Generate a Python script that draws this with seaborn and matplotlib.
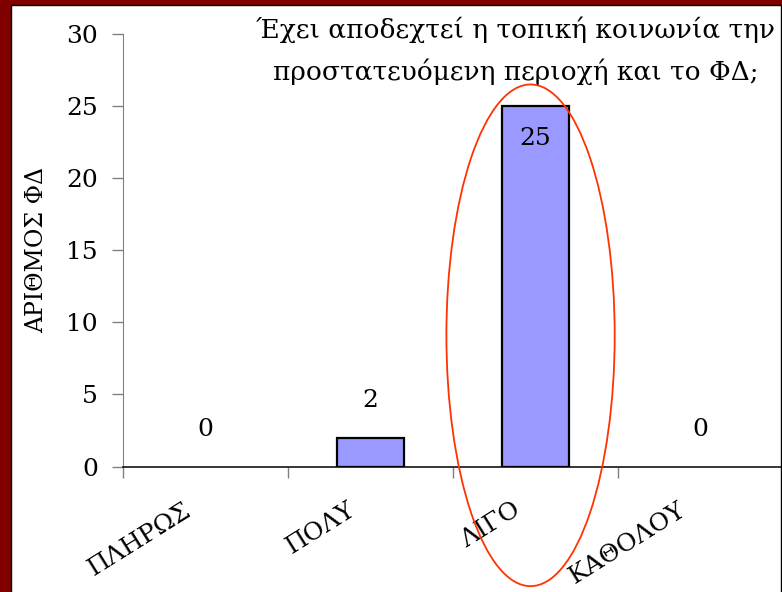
import matplotlib
matplotlib.use("Agg")
import matplotlib.pyplot as plt
from matplotlib.patches import Ellipse, Rectangle
from matplotlib.transforms import ScaledTranslation
import seaborn as sns

# data
categories = ['ΠΛΗΡΩΣ', 'ΠΟΛΥ', 'ΛΙΓΟ', 'ΚΑΘΟΛΟΥ']
counts = [0, 2, 25, 0]
title_lines = ['Έχει αποδεχτεί η τοπική κοινωνία την', 'προστατευόμενη περιοχή και το ΦΔ;']
ylabel = 'ΑΡΙΘΜΟΣ ΦΔ'
highlight = 'ΛΙΓΟ'

sns.set_style('white')
plt.rcParams['font.family'] = ['DejaVu Serif']
plt.rcParams['text.color'] = 'black'
plt.rcParams['axes.labelcolor'] = 'black'
plt.rcParams['xtick.labelcolor'] = 'black'
plt.rcParams['ytick.labelcolor'] = 'black'

fig = plt.figure(figsize=(7.82, 5.92), dpi=100)
ax = fig.add_axes([123 / 782, 1 - 466.5 / 592, 660 / 782, 432.5 / 592])

sns.barplot(x=categories, y=counts, color='#9999FF', edgecolor='black',
            linewidth=1.6, width=0.41, saturation=1, ax=ax)
# zero bars leave no outline
for p in ax.patches:
    if p.get_height() == 0:
        p.set_visible(False)

ax.set_ylim(0, 30)
ax.set_xlim(-0.5, 3.5)
ax.set_yticks(range(0, 31, 5))
ax.tick_params(axis='y', labelsize=18, length=8, width=1, color='#808080',
               direction='out', pad=10, left=True)
# boundary ticks on x, labels at the centres
ax.set_xticks([-0.5, 0.5, 1.5, 2.5, 3.5], labels=[''] * 5)
ax.tick_params(axis='x', which='major', length=8, width=1, color='#808080',
               direction='out', bottom=True)
ax.set_xticks(range(len(categories)), labels=categories, minor=True)
ax.tick_params(axis='x', which='minor', length=0, labelsize=18, pad=23)
shift = ScaledTranslation(-23 / 100, 0, fig.dpi_scale_trans)
for lab in ax.get_xticklabels(minor=True):
    lab.set_rotation(32)
    lab.set_ha('right')
    lab.set_va('top')
    lab.set_rotation_mode('anchor')
    lab.set_transform(lab.get_transform() + shift)

ax.set_ylabel(ylabel, fontsize=17)
ax.yaxis.set_label_coords(-0.114, 0.5)
ax.set_xlabel('')
for s in ['top', 'right']:
    ax.spines[s].set_visible(False)
ax.spines['left'].set_color('#808080')
ax.spines['bottom'].set_color('black')
ax.spines['bottom'].set_linewidth(1.1)

# value labels
for i, v in enumerate(counts):
    off = -23 if v > 10 else 27
    ax.annotate(str(v), (i, v), xytext=(0, off), textcoords='offset points',
                ha='center', va='center', fontsize=18)

# title text
ax.text(0.595, 0.962, '\n'.join(title_lines), transform=ax.transAxes,
        ha='center', va='center', fontsize=19, linespacing=1.72)

# red ellipse around the highlighted bar
hi = categories.index(highlight)
ax.add_patch(Ellipse((hi - 0.03, 9.1), 1.02, 34.8, fill=False, edgecolor='#FF3300',
                     linewidth=1.3, clip_on=False, zorder=5))

# slide frame
fig.add_artist(Rectangle((0, 0), 10 / 782, 1, transform=fig.transFigure,
                         color='#800000', zorder=0))
fig.add_artist(Rectangle((0, 1 - 4 / 592), 1, 4 / 592, transform=fig.transFigure,
                         color='#800000', zorder=0))
fig.add_artist(plt.Line2D([10.5 / 782, 10.5 / 782], [0, 1 - 4.5 / 592],
                          transform=fig.transFigure, color='black', lw=1))
fig.add_artist(plt.Line2D([10.5 / 782, 1], [1 - 4.5 / 592, 1 - 4.5 / 592],
                          transform=fig.transFigure, color='black', lw=1))
fig.add_artist(plt.Line2D([781 / 782, 781 / 782], [0, 1 - 4.5 / 592],
                          transform=fig.transFigure, color='black', lw=1))

fig.savefig('out.png', dpi=100)
